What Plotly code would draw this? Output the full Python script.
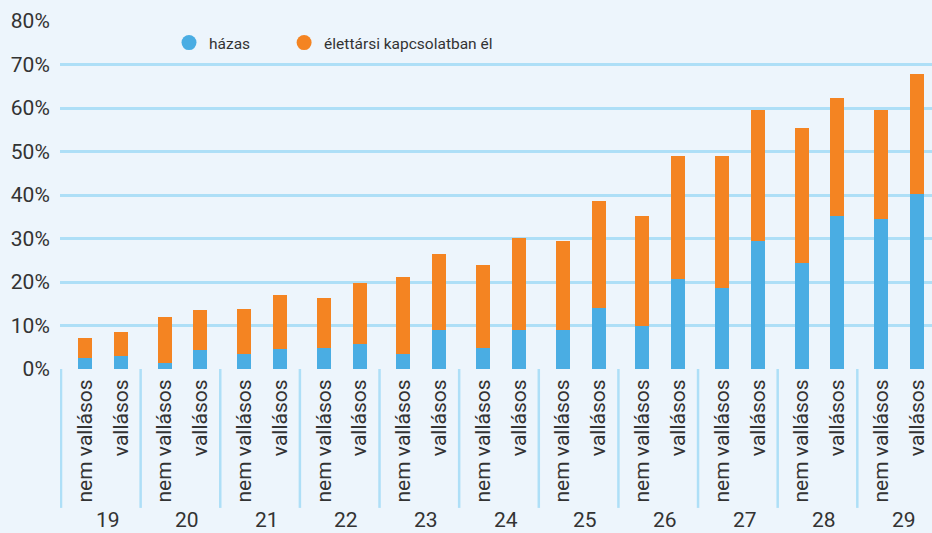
import plotly.graph_objects as go

ages = ['19', '20', '21', '22', '23', '24', '25', '26', '27', '28', '29']
bar_labels = ['nem vallásos', 'vallásos']
series_names = ['házas', 'élettársi kapcsolatban él']

hazas_nem = [2.6, 1.4, 3.5, 4.9, 3.5, 4.8, 9.0, 10.0, 18.7, 24.4, 34.5]
hazas_vall = [3.1, 4.4, 4.6, 5.8, 9.0, 9.0, 14.1, 20.7, 29.4, 35.2, 40.3]
elet_nem = [4.5, 10.6, 10.3, 11.4, 17.6, 19.1, 20.4, 25.2, 30.3, 31.0, 25.0]
elet_vall = [5.4, 9.2, 12.4, 14.0, 17.4, 21.1, 24.5, 28.3, 30.1, 27.1, 27.5]

y_ticks = [0, 10, 20, 30, 40, 50, 60, 70, 80]

BLUE = '#4AADE3'
ORANGE = '#F48422'
BG = '#EDF5FC'
GRID = '#AEDFF7'
TXT = '#333333'
FONT = 'Roboto'

OFF_NEM, OFF_VALL = -0.2, 0.25
BAR_W = 0.176

xs, hz, el, tt = [], [], [], []
for i in range(len(ages)):
    xs += [i + OFF_NEM, i + OFF_VALL]
    hz += [hazas_nem[i], hazas_vall[i]]
    el += [elet_nem[i], elet_vall[i]]
    tt += bar_labels

fig = go.Figure()
fig.add_trace(go.Bar(x=xs, y=hz, width=BAR_W, marker=dict(color=BLUE, line=dict(width=0)),
                     name=series_names[0], showlegend=False))
fig.add_trace(go.Bar(x=xs, y=el, width=BAR_W, marker=dict(color=ORANGE, line=dict(width=0)),
                     name=series_names[1], showlegend=False))
# legend entries with round markers (one legend box per entry)
fig.add_trace(go.Scatter(x=[None], y=[None], mode='markers', name=series_names[0],
                         marker=dict(color=BLUE, size=15, symbol='circle'), legend='legend'))
fig.add_trace(go.Scatter(x=[None], y=[None], mode='markers', name=series_names[1],
                         marker=dict(color=ORANGE, size=15, symbol='circle'), legend='legend2'))

# group separators below the axis
for k in range(len(ages)):
    fig.add_shape(type='line', xref='x', yref='paper', x0=k - 0.5, x1=k - 0.5,
                  y0=0, y1=-0.398, line=dict(color=GRID, width=2.5), layer='above')

# group labels
for i, a in enumerate(ages):
    fig.add_annotation(x=i + 0.085, xref='x', y=-0.434, yref='paper', text=a, showarrow=False,
                       font=dict(family=FONT, size=21, color=TXT), xanchor='center', yanchor='middle',
                       borderpad=0)

leg_common = dict(orientation='h', xanchor='left', y=0.934, yanchor='middle',
                  font=dict(family=FONT, size=15.5, color=TXT), bgcolor='rgba(0,0,0,0)',
                  itemclick=False, itemdoubleclick=False)

fig.update_layout(
    width=932, height=533,
    margin=dict(l=60, r=0, t=20, b=164),
    paper_bgcolor=BG, plot_bgcolor=BG,
    barmode='stack', bargap=0,
    font=dict(family=FONT, color=TXT),
    legend=dict(x=0.125, **leg_common),
    legend2=dict(x=0.257, **leg_common),
    xaxis=dict(range=[-0.5126, 10.438], tickmode='array', tickvals=xs, ticktext=tt,
               tickangle=-90, showgrid=False, zeroline=False, showline=False,
               ticks='outside', ticklen=1, tickcolor='rgba(0,0,0,0)',
               tickfont=dict(family=FONT, size=21, color=TXT), fixedrange=True),
    yaxis=dict(range=[0, 80.23], tickmode='array', tickvals=y_ticks,
               ticktext=[f'{v}%' for v in y_ticks], showgrid=True, gridcolor=GRID, gridwidth=2.5,
               zeroline=False, showline=False, ticks='outside', ticklen=5,
               tickcolor='rgba(0,0,0,0)', tickfont=dict(family=FONT, size=21, color=TXT),
               fixedrange=True),
)

fig.write_html('out.html', config={'displayModeBar': False},
               post_script="document.body.style.margin='0';document.body.style.overflow='hidden';")
